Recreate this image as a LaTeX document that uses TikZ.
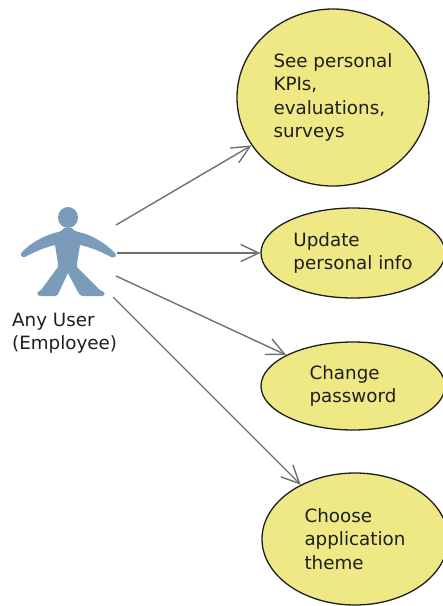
\documentclass[tikz,border=0pt]{standalone}
\usepackage{fontspec}
\setmainfont{DejaVu Sans}
\usetikzlibrary{shapes.geometric,arrows.meta}
\definecolor{ucfill}{RGB}{238,233,132}
\definecolor{actorblue}{RGB}{122,156,186}
\definecolor{linkgray}{RGB}{112,112,112}
\definecolor{ink}{RGB}{30,30,30}
\begin{document}
\begin{tikzpicture}[x=1pt,y=-1pt,
  txt/.style={inner sep=0pt,align=left,text=ink,font=\fontsize{18.3}{23.3}\selectfont},
  usecase/.style={txt,ellipse,draw=ink,fill=ucfill,line width=1.3pt},
  link/.style={draw=linkgray,line width=1.4pt,-{Straight Barb[length=18pt,width=17pt]}}]
\useasboundingbox(0,0)rectangle(443,606);
%actor
\fill[actorblue](64,228)..controls(62,232)and(57,232)..(51,234)
  ..controls(40,238)and(30,244)..(23,251)..controls(19,254)and(21,258)..(25,257)
  ..controls(34,252)and(46,247)..(55,245)..controls(56,252)and(58,261)..(58,267)
  --(41,290)..controls(36,292)and(36,296)..(41,296)--(55,296)
  ..controls(58,296)and(58,294)..(59,292)--(68,273)--(78,292)
  ..controls(79,294)and(80,296)..(84,296)--(101,296)
  ..controls(106,296)and(106,292)..(100,290)--(77,267)
  ..controls(77,261)and(79,252)..(80,245)..controls(90,247)and(102,252)..(111,257)
  ..controls(115,259)and(118,255)..(114,252)..controls(106,244)and(96,238)..(86,234)
  ..controls(80,232)and(74,232)..(72,228)--cycle;
\fill[actorblue](68,217.5)ellipse[x radius=10pt,y radius=10.5pt];
\node[txt,anchor=west](user)at(12,333){Any User\\(Employee)};
\coordinate(a1)at(116,225);
\coordinate(a2)at(117,253);
\coordinate(a3)at(116,276);
\coordinate(a4)at(113,297);
%use cases
\node[usecase,minimum width=192pt,minimum height=177pt](kpi)at(333,97.5){See personal\\KPIs,\\evaluations,\\surveys};
\node[usecase,minimum width=184pt,minimum height=90pt](info)at(353,253){Update\\personal info};
\node[usecase,minimum width=184pt,minimum height=88pt](pwd)at(353,386){Change\\password};
\node[usecase,minimum width=186pt,minimum height=132pt](theme)at(355,539){Choose\\application\\theme};
%links
\foreach \a/\b in {a1/kpi,a2/info,a3/pwd,a4/theme}{\draw[link](\a)--(\b);}
\end{tikzpicture}
\end{document}
